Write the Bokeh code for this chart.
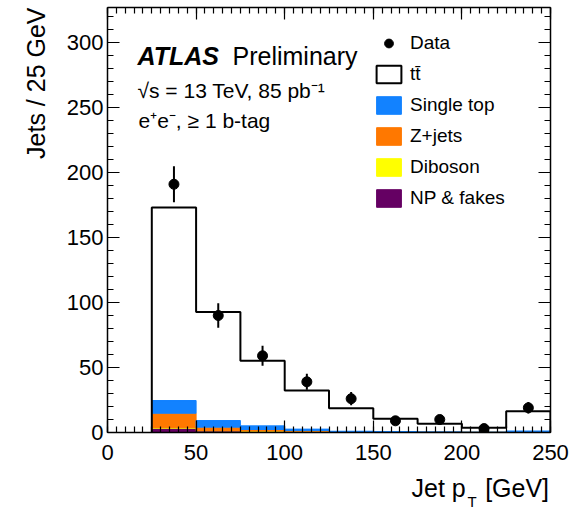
import numpy as np
from bokeh.plotting import figure
from bokeh.models import (Range1d, SingleIntervalTicker, LinearAxis, Label, Legend,
                          LegendItem, ColumnDataSource, CustomJSTickFormatter)
from bokeh.embed import file_html
from bokeh.resources import INLINE

# ---------------- data ----------------
bin_edges = [25, 50, 75, 100, 125, 150, 175, 200, 225, 250]
data_counts = [191, 90, 59, 39, 26, 9, 10, 3, 19]
data_errors = [13.8, 9.5, 7.7, 6.2, 5.1, 3.0, 3.2, 1.7, 4.4]
ttbar = [148.6, 83.6, 50.2, 29.7, 17.75, 9.75, 6.3, 3.35, 15.25]
single_top = [9.8, 5.1, 2.8, 1.1, 0.2, 0.5, 0.05, 0.1, 0.8]
z_jets = [11.0, 2.5, 1.1, 0.6, 0.4, 0.1, 0.05, 0.05, 0.1]
diboson = [0.5, 0.3, 0.2, 0.1, 0.05, 0.05, 0.0, 0.0, 0.05]
np_fakes = [3.3, 1.3, 1.0, 0.8, 0.3, 0.1, 0.3, 0.1, 0.2]

x_ticks_major = 50
y_ticks_major = 50
x_range = (0, 250)
y_range = (0, 327)

colors = {"Single top": "#1282ff", "Z+jets": "#ff7800", "Diboson": "#ffff00",
          "NP & fakes": "#650063"}
FONT = "Liberation Sans"

# ---------------- figure ----------------
W, H = 575, 508
L, R, T, B = 107, 25, 7, 76
p = figure(width=W, height=H, output_backend="svg", toolbar_location=None,
           x_range=Range1d(*x_range), y_range=Range1d(*y_range),
           min_border_left=L, min_border_right=R, min_border_top=T, min_border_bottom=B,
           background_fill_color="white", border_fill_color="white")
p.outline_line_color = None
p.xgrid.visible = False
p.ygrid.visible = False

fw, fh = W - L - R, H - T - B
def px2x(px):
    return x_range[0] + (px - L) * (x_range[1] - x_range[0]) / fw
def px2y(py):
    return y_range[0] + (H - B - py) * (y_range[1] - y_range[0]) / fh

# ---------------- stacked histogram ----------------
left = np.array(bin_edges[:-1], dtype=float)
right = np.array(bin_edges[1:], dtype=float)
centers = (left + right) / 2
layers = [("NP & fakes", np_fakes), ("Diboson", diboson), ("Z+jets", z_jets),
          ("Single top", single_top)]
cum_bg = np.sum([np.array(v) for _, v in layers], axis=0)
total = cum_bg + np.array(ttbar)

tt_src = ColumnDataSource(dict(left=left, right=right, bottom=cum_bg, top=total))
p.quad(left="left", right="right", bottom="bottom", top="top", source=tt_src,
       fill_color="white", line_color=None)
# legend proxy for ttbar (same data, hidden in the plot, drawn in the legend)
tt_proxy = p.quad(left="left", right="right", bottom="bottom", top="top", source=tt_src,
                  fill_color="white", line_color="black", line_width=2, visible=False)

bottom = np.zeros(len(left))
layer_renderers = {}
for name, vals in layers:
    top = bottom + np.array(vals)
    r = p.quad(left=left, right=right, bottom=bottom, top=top,
               fill_color=colors[name], line_color=colors[name], line_width=1)
    layer_renderers[name] = r
    bottom = top

# outline of total stack (step)
xs = [bin_edges[0]]
ys = [0.0]
for i in range(len(left)):
    xs += [left[i], right[i]]
    ys += [total[i], total[i]]
xs.append(bin_edges[-1]); ys.append(0.0)
p.line(xs, ys, line_color="black", line_width=2)

# ---------------- data ----------------
dc = np.array(data_counts, dtype=float)
de = np.array(data_errors, dtype=float)
p.segment(x0=centers, y0=dc - de, x1=centers, y1=dc + de, line_color="black", line_width=2)
data_r = p.scatter(x=centers, y=dc, size=10, marker="circle", fill_color="black",
                   line_color="black")

# ---------------- axes ----------------
def style_axis(ax, ticker, labels=True):
    ax.ticker = ticker
    ax.axis_line_color = "black"
    ax.axis_line_width = 1.5
    ax.major_tick_in = 12
    ax.major_tick_out = 0
    ax.minor_tick_in = 6
    ax.minor_tick_out = 0
    ax.major_tick_line_color = "black"
    ax.minor_tick_line_color = "black"
    ax.major_tick_line_width = 1.2
    ax.minor_tick_line_width = 1.2
    if labels:
        ax.major_label_text_font = FONT
        ax.major_label_text_font_size = "22px"
        ax.major_label_text_color = "black"
    else:
        ax.formatter = CustomJSTickFormatter(code="return ''")
        ax.major_label_text_font_size = "1px"
        ax.major_label_standoff = 0

xt = lambda: SingleIntervalTicker(interval=x_ticks_major, num_minor_ticks=10)
yt = lambda: SingleIntervalTicker(interval=y_ticks_major, num_minor_ticks=5)
style_axis(p.xaxis[0], xt())
style_axis(p.yaxis[0], yt())
p.xaxis[0].major_label_standoff = 12
p.yaxis[0].major_label_standoff = 4
top_ax = LinearAxis()
right_ax = LinearAxis()
style_axis(top_ax, xt(), labels=False)
style_axis(right_ax, yt(), labels=False)
p.add_layout(top_ax, "above")
p.add_layout(right_ax, "right")

# ---------------- texts ----------------
def make_label(text, px, py, size, align="left", style="normal", angle=0.0,
               baseline="alphabetic"):
    return Label(x=px2x(px), y=px2y(py), text=text, text_font=FONT,
                 text_font_size=f"{size}px", text_font_style=style,
                 text_align=align, text_baseline=baseline, angle=angle,
                 text_color="black")

# axis titles live in side panels so that they are not clipped to the frame
p.add_layout(make_label("Jets / 25 GeV", 35.5, 7, 25, align="right", angle=np.pi / 2,
                        baseline="middle"), "left")
p.add_layout(make_label("Jet p\u2002 [GeV]", 411, 487.5, 25, baseline="middle"), "below")
p.add_layout(make_label("T", 467, 500.5, 15, baseline="middle"), "right")

p.add_layout(make_label("ATLAS", 137, 55, 25, style="bold italic"))
p.add_layout(make_label("Preliminary", 232, 55, 25))
p.add_layout(make_label("\u221As = 13 TeV, 85 pb\u207B\u00B9", 137, 90, 21))
p.add_layout(make_label("e\u207Ae\u207B, \u2265 1 b-tag", 138, 120, 21))

# ---------------- legend ----------------
items = [LegendItem(label="Data", renderers=[data_r]),
         LegendItem(label="tt\u0304", renderers=[tt_proxy])]
for name in ["Single top", "Z+jets", "Diboson", "NP & fakes"]:
    items.append(LegendItem(label=name, renderers=[layer_renderers[name]]))
legend = Legend(items=items, location=(266, 223), glyph_width=31, glyph_height=22,
                label_height=21, spacing=9, label_standoff=6, padding=0, margin=0,
                border_line_color=None, background_fill_alpha=0,
                inactive_fill_alpha=0,
                label_text_font=FONT, label_text_font_size="19px",
                label_text_color="black")
p.add_layout(legend)

open("out.html", "w").write(file_html(p, INLINE))
